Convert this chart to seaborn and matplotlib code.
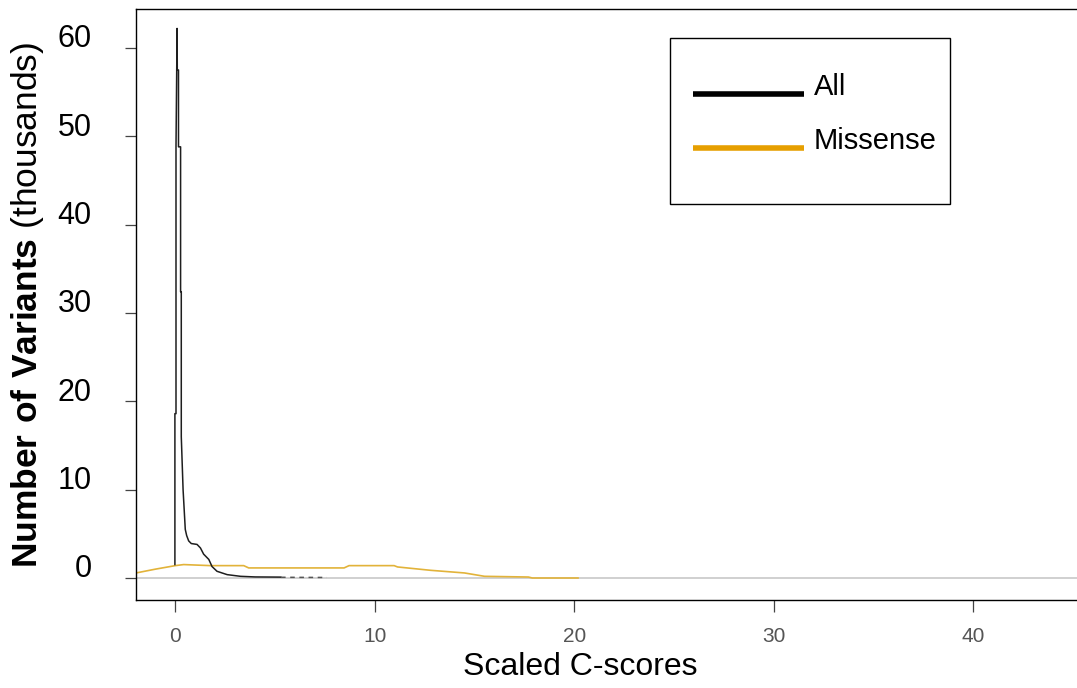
import numpy as np
import pandas as pd
import seaborn as sns
import matplotlib
matplotlib.use("Agg")
import matplotlib.pyplot as plt
from matplotlib.patches import Rectangle
from matplotlib.lines import Line2D
from matplotlib.transforms import ScaledTranslation

# Density of scaled C-scores (thousands of variants)
all_x = [-0.02, -0.02, 0.035, 0.035, 0.09, 0.10, 0.16, 0.16, 0.265, 0.265, 0.30, 0.30,
         0.39, 0.50, 0.57, 0.67, 0.80, 1.09, 1.26, 1.42, 1.68, 1.84, 2.09, 2.60, 3.27,
         4.00, 5.30]
all_y = [1.5, 18.6, 18.6, 48.8, 62.2, 57.5, 57.5, 48.8, 48.8, 32.4, 32.4, 16.0,
         10.0, 5.5, 4.8, 4.2, 3.9, 3.8, 3.4, 2.7, 2.1, 1.3, 0.76, 0.38, 0.19,
         0.12, 0.10]
all_tail_x = [5.3, 7.6]
all_tail_y = [0.08, 0.06]

miss_x = [-1.97, -1.0, 0.0, 0.42, 1.76, 3.43, 3.68, 8.46, 8.71, 10.97, 11.14,
          12.8, 14.5, 15.5, 17.7, 17.9, 20.2]
miss_y = [0.57, 1.0, 1.4, 1.52, 1.4, 1.4, 1.14, 1.14, 1.4, 1.4, 1.25,
          0.87, 0.57, 0.19, 0.11, 0.0, 0.0]

x_ticks = [0, 10, 20, 30, 40]
y_ticks = [0, 10, 20, 30, 40, 50, 60]
series_names = ["All", "Missense"]
series_colors = ["#000000", "#E69F00"]

sns.set_style("ticks")
plt.rcParams["font.family"] = ["Liberation Sans", "DejaVu Sans"]
plt.rcParams["mathtext.fontset"] = "custom"
plt.rcParams["mathtext.rm"] = "Liberation Sans"
plt.rcParams["mathtext.bf"] = "Liberation Sans:bold"

W, H = 1077, 688
fig = plt.figure(figsize=(W / 100, H / 100), dpi=100)
ax = fig.add_axes([136 / W, 1 - 600 / H, 941 / W, 591 / H])

ax.axhline(0, color="#c4c4c4", lw=1.1, zorder=1)

df_all = pd.DataFrame({"x": all_x, "y": all_y})
df_tail = pd.DataFrame({"x": all_tail_x, "y": all_tail_y})
df_miss = pd.DataFrame({"x": miss_x, "y": miss_y})

sns.lineplot(data=df_miss, x="x", y="y", sort=False, estimator=None,
             color="#E2B33A", lw=1.2, ax=ax, zorder=2)
sns.lineplot(data=df_all, x="x", y="y", sort=False, estimator=None,
             color="#1e1e1e", lw=1.1, ax=ax, zorder=3)
sns.lineplot(data=df_tail, x="x", y="y", sort=False, estimator=None,
             color="#555555", lw=1.1, ax=ax, zorder=3, linestyle=(0, (3, 3)))

ax.set_xlim(-1.97, 45.2)
ax.set_ylim(-2.49, 64.4)
ax.set_xticks(x_ticks)
ax.set_yticks(y_ticks)
ax.set_xticklabels([str(v) for v in x_ticks], color="#555555",
                   fontsize=15, family=["Liberation Sans Narrow", "Liberation Sans"])
ax.set_yticklabels([str(v) for v in y_ticks], fontsize=22, color="black")
ax.tick_params(axis="x", length=8.5, width=0.9, color="#444444", pad=11)
ax.tick_params(axis="y", length=8, width=0.9, color="#444444", pad=24)

# the y tick labels sit slightly above their ticks
shift = ScaledTranslation(0, 12 / 100, fig.dpi_scale_trans)
for t in ax.yaxis.get_major_ticks():
    t.label1.set_transform(t.label1.get_transform() + shift)

for side in ["left", "top", "bottom"]:
    ax.spines[side].set_color("black")
    ax.spines[side].set_linewidth(1.0)
ax.spines["right"].set_visible(False)

ax.set_xlabel("Scaled C-scores", fontsize=23, color="black")
ax.xaxis.set_label_coords((580 - 136) / 941, -0.088)
ax.set_ylabel(r"$\mathbf{Number\ of\ Variants}$ (thousands)", fontsize=25.5,
              color="black", va="center")
ax.yaxis.set_label_coords((28 - 136) / 941, 0.5)

# legend box
fig.patches.append(Rectangle((670 / W, 1 - 204 / H), 280 / W, 166 / H,
                             transform=fig.transFigure, fill=True, facecolor="white",
                             edgecolor="black", lw=1.0, zorder=5))
legend_rows = [94, 148]
for name, col, yy in zip(series_names, series_colors, legend_rows):
    fig.lines.append(Line2D([693 / W, 804 / W], [1 - yy / H, 1 - yy / H],
                            transform=fig.transFigure, color=col, lw=4.0,
                            solid_capstyle="butt", zorder=6))
    fig.text(814 / W, 1 - (yy + 1) / H, name, fontsize=21, va="baseline",
             ha="left", color="black", zorder=6)

fig.savefig("out.png", dpi=100, facecolor="white")
